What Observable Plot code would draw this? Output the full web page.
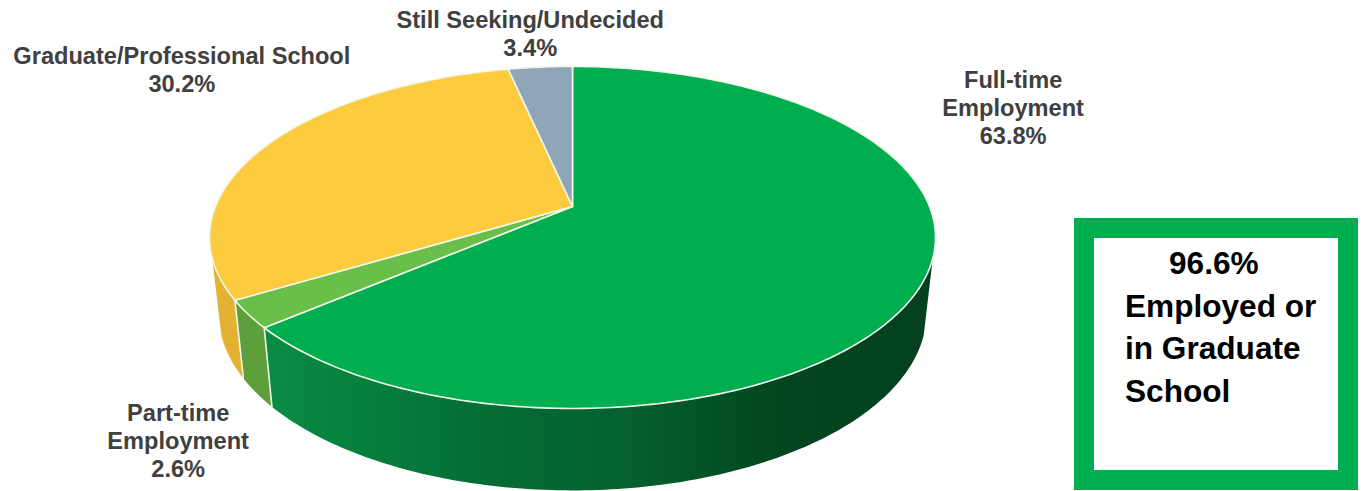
<!DOCTYPE html>
<html>
<head>
<meta charset="utf-8">
<script src="https://cdn.jsdelivr.net/npm/d3@7"></script>
<script src="https://cdn.jsdelivr.net/npm/@observablehq/plot@0.6"></script>
<style>
  html, body { margin: 0; padding: 0; background: #fff; }
  #stage { position: relative; width: 1363px; height: 491px; overflow: hidden; }
  #stage svg { display: block; }
  #callout {
    position: absolute; left: 1074px; top: 218px; width: 244px; height: 232px;
    border: 20px solid #00ad4f; background: #fff;
    font: bold 31.6px/42.6px "Liberation Sans", Arial, sans-serif; color: #000;
  }
  #callout div { position: absolute; white-space: nowrap; left: 31px; }
</style>
</head>
<body>
<div id="stage">
  <div id="callout"></div>
</div>
<script>
// ---- Data ----
const categories = ["Full-time Employment", "Part-time Employment", "Graduate/Professional School", "Still Seeking/Undecided"];
const shares = [63.8, 2.6, 30.2, 3.4];
const labels = ["Full-time\nEmployment\n63.8%", "Part-time\nEmployment\n2.6%", "Graduate/Professional School\n30.2%", "Still Seeking/Undecided\n3.4%"];
const calloutLines = ["96.6%", "Employed or", "in Graduate", "School"];

// ---- Styles and layout ----
const topColors = ["#00ad4f", "#6abf4b", "#fdcb3e", "#8fa5b8"];
const wallColors = ["url(#wallGreen)", "#5d9f3a", "#e3b233", null];
const labelOffsets = [[90, -175], [-70, 126], [-85, -76], [-10, -34]];
const tilt = 0.181;               // perspective of the disc
const rimScaleX = 0.975, rimScaleY = 1.036, rimShift = 0.4516;  // bottom rim relative to top rim
const wallFrom = 29.8, wallTo = 70.2;  // percent positions where the wall becomes visible

// Project a clockwise-from-top percent position onto the tilted disc
function disc(p) {
  const t = (p / 100) * 2 * Math.PI, u = Math.sin(t), v = -Math.cos(t), w = 1 - tilt * v;
  return [u / w, v / w];
}
function rim(p) {
  const [x, y] = disc(p);
  return [x * rimScaleX, y * rimScaleY + rimShift];
}
function sweep(a, b, f) {
  const n = Math.max(2, Math.ceil((b - a) * 4)), out = [];
  for (let i = 0; i <= n; ++i) out.push(f(a + (b - a) * i / n));
  return out;
}

const starts = d3.cumsum([0, ...shares]);
const slices = categories.map((name, i) => ({name, a: starts[i], b: starts[i + 1], mid: (starts[i] + starts[i + 1]) / 2}));

const topPoints = slices.flatMap(s => {
  const pts = [[0, 0], ...sweep(s.a, s.b, disc), [0, 0]];
  return pts.map(([x, y]) => ({name: s.name, x, y}));
});

const wallMarks = [];
slices.forEach((s, i) => {
  const a = Math.max(s.a, wallFrom), b = Math.min(s.b, wallTo);
  if (a >= b || !wallColors[i]) return;
  const pts = [...sweep(a, b, disc), ...sweep(a, b, rim).reverse()];
  wallMarks.push(Plot.line(pts, {x: d => d[0], y: d => d[1], fill: wallColors[i], stroke: "none", curve: "linear"}));
});
const dividers = [slices[0].b, slices[1].b].map(p => Plot.line([disc(p), rim(p)], {
  x: d => d[0], y: d => d[1], stroke: "#f2f7ea", strokeWidth: 1.6
}));

const gradientStops = [[0, "#0a8c45"], [0.12, "#07823e"], [0.35, "#046b33"], [0.55, "#05602e"], [0.68, "#035026"], [0.78, "#02451f"], [1, "#03401f"]];
const defs = () => {
  const ns = "http://www.w3.org/2000/svg";
  const d = document.createElementNS(ns, "defs");
  const g = document.createElementNS(ns, "linearGradient");
  g.setAttribute("id", "wallGreen");
  for (const [o, c] of gradientStops) {
    const st = document.createElementNS(ns, "stop");
    st.setAttribute("offset", o);
    st.setAttribute("stop-color", c);
    g.appendChild(st);
  }
  d.appendChild(g);
  return d;
};

const labelMarks = slices.map((s, i) => {
  const [x, y] = disc(s.mid);
  return Plot.text([{x, y, text: labels[i]}], {
    x: "x", y: "y", text: "text", dx: labelOffsets[i][0], dy: labelOffsets[i][1],
    fill: "#404040", fontSize: 23.6, fontWeight: "bold", fontFamily: "Liberation Sans, Arial, sans-serif",
    textAnchor: "middle", lineAnchor: "middle", lineHeight: 1.186
  });
});

const chart = Plot.plot({
  width: 1363, height: 491,
  marginTop: 0, marginRight: 0, marginBottom: 0, marginLeft: 0,
  x: {type: "linear", domain: [-1, 1], range: [572 - 357, 572 + 357], axis: null},
  y: {type: "linear", domain: [-1, 1], range: [206 - 165.4, 206 + 165.4], axis: null},
  color: {type: "ordinal", domain: categories, range: topColors},
  style: {background: "#fff", overflow: "hidden"},
  marks: [
    defs,
    ...wallMarks,
    ...dividers,
    Plot.line(topPoints, {x: "x", y: "y", fill: "name", stroke: "#f2f7ea", strokeWidth: 1.6, strokeLinejoin: "round", curve: "linear"}),
    ...labelMarks
  ]
});
document.getElementById("stage").prepend(chart);

const callout = document.getElementById("callout");
calloutLines.forEach((line, i) => {
  const el = document.createElement("div");
  el.textContent = line;
  el.style.top = (4 + i * 42.6) + "px";
  if (i === 0) el.style.left = "75px";
  callout.appendChild(el);
});
</script>
</body>
</html>
